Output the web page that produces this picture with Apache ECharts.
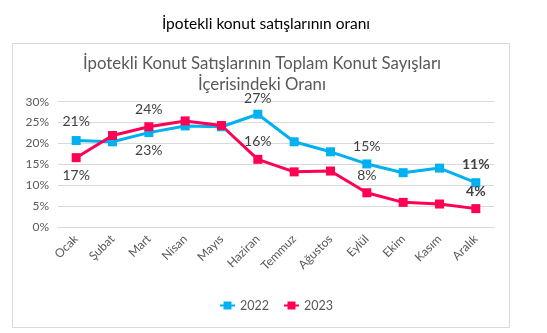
<!DOCTYPE html>
<html><head><meta charset="utf-8">
<script src="https://cdn.jsdelivr.net/npm/echarts@6/dist/echarts.min.js"></script>
<style>html,body{margin:0;padding:0;background:#fff}#c{width:547px;height:333px}</style>
</head><body><div id="c"></div>
<script>
var months = ['Ocak','Şubat','Mart','Nisan','Mayıs','Haziran','Temmuz','Ağustos','Eylül','Ekim','Kasım','Aralık'];
var v2022 = [20.7, 20.4, 22.6, 24.2, 24.0, 27.0, 20.4, 18.0, 15.1, 13.0, 14.1, 10.6];
var v2023 = [16.6, 21.9, 24.0, 25.4, 24.3, 16.2, 13.2, 13.4, 8.2, 5.9, 5.5, 4.4];
var yTicks = [0, 5, 10, 15, 20, 25, 30];

var FONT = 'Lato, "Open Sans", sans-serif';
// which points carry labels: index -> [position, bold]
var lab2022 = {0:['top',false], 2:['bottom',false], 5:['top',false], 8:['top',false], 11:['top',true]};
var lab2023 = {0:['bottom',false], 2:['top',false], 5:['top',false], 8:['top',false], 11:['top',true]};

function build(vals, labs, offs) {
  return vals.map(function (v, i) {
    var item = {value: v};
    if (labs[i]) {
      item.label = {show: true, position: labs[i][0], distance: offs[i] || 6,
        fontWeight: labs[i][1] ? 'bold' : 'normal', formatter: function (p) { return Math.round(p.value) + '%'; }};
    }
    return item;
  });
}

var chart = echarts.init(document.getElementById('c'));
chart.setOption({
  animation: false,
  textStyle: {fontFamily: FONT},
  graphic: [{type: 'rect', shape: {x: 12.5, y: 43.5, width: 497, height: 284}, style: {fill: 'none', stroke: '#d9d9d9', lineWidth: 1}, z: -1}],
  title: [
    {text: 'İpotekli konut satışlarının oranı', left: 261, textAlign: 'center', top: 11, textStyle: {fontFamily: FONT, fontSize: 15.5, fontWeight: 'normal', color: '#000'}},
    {text: 'İpotekli Konut Satışlarının Toplam Konut Sayışları\nİçerisindeki Oranı', left: 257, textAlign: 'center', top: 48,
     textStyle: {fontFamily: FONT, fontSize: 16.8, fontWeight: 'normal', color: '#595959', lineHeight: 21}}
  ],
  legend: {bottom: 16, left: 214, itemWidth: 15, itemHeight: 10, itemGap: 14,
    textStyle: {fontFamily: FONT, fontSize: 12.5, color: '#595959'},
    data: ['2022', '2023']},
  grid: {left: 58, right: 53, top: 101.7, bottom: 106},
  xAxis: {type: 'category', data: months, boundaryGap: true,
    axisLine: {lineStyle: {color: '#d9d9d9'}}, axisTick: {show: false},
    axisLabel: {rotate: 45, color: '#595959', fontSize: 12, fontFamily: FONT, margin: 10}},
  yAxis: {type: 'value', min: yTicks[0], max: yTicks[yTicks.length - 1], interval: 5,
    axisLine: {show: false}, axisTick: {show: false},
    splitLine: {lineStyle: {color: '#d9d9d9'}},
    axisLabel: {formatter: '{value}%', color: '#595959', fontSize: 12, fontFamily: FONT, margin: 9}},
  series: [
    {name: '2022', type: 'line', data: build(v2022, lab2022, {0: 8, 2: 6, 5: 4, 8: 6, 11: 7}),
     symbol: 'rect', symbolSize: 9, lineStyle: {width: 3, color: '#00B0F0'}, itemStyle: {color: '#00B0F0'},
     label: {color: '#404040', fontSize: 14, fontFamily: FONT}},
    {name: '2023', type: 'line', data: build(v2023, lab2023, {0: 6, 2: 6, 5: 6, 8: 6, 11: 6}),
     symbol: 'rect', symbolSize: 9, lineStyle: {width: 3, color: '#FF0055'}, itemStyle: {color: '#FF0055'},
     label: {color: '#404040', fontSize: 14, fontFamily: FONT}}
  ]
});
</script></body></html>
